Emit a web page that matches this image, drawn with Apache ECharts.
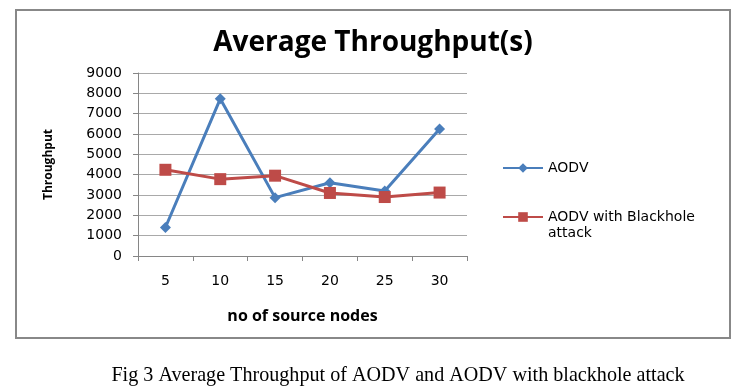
<!DOCTYPE html>
<html>
<head>
<meta charset="utf-8">
<script src="https://cdn.jsdelivr.net/npm/echarts@6/dist/echarts.min.js"></script>
<style>
html,body{margin:0;padding:0;background:#fff;}
#chart{width:743px;height:392px;}
</style>
</head>
<body>
<div id="chart"></div>
<script>
const categories = ['5', '10', '15', '20', '25', '30'];
const aodv = [1400, 7730, 2870, 3600, 3200, 6240];
const aodvBlackhole = [4240, 3780, 3950, 3100, 2900, 3120];
const yTicks = [0, 1000, 2000, 3000, 4000, 5000, 6000, 7000, 8000, 9000];
const seriesNames = ['AODV', 'AODV with Blackhole attack'];
const titleText = 'Average Throughput(s)';
const xName = 'no of source nodes';
const yName = 'Throughput';
const captionText = 'Fig 3 Average Throughput of AODV and AODV with blackhole attack';

const chart = echarts.init(document.getElementById('chart'), null, {renderer: 'canvas'});
const legendText = {fontFamily: 'DejaVu Sans', fontSize: 14, color: '#000', lineHeight: 16};
chart.setOption({
  animation: false,
  backgroundColor: '#fff',
  title: {
    text: titleText, left: 368, top: 24, textAlign: 'center',
    textStyle: {fontFamily: 'Open Sans', fontWeight: 'bold', fontSize: 28, color: '#000'}
  },
  legend: [
    {data: [seriesNames[0]], orient: 'vertical', left: 497, top: 155, itemWidth: 40, itemHeight: 12, itemGap: 5,
     textStyle: legendText},
    {data: [seriesNames[1]], orient: 'vertical', left: 497, top: 188, itemWidth: 40, itemHeight: 12, itemGap: 5,
     textStyle: legendText,
     formatter: function () { return '\nAODV with Blackhole\nattack'; }}
  ],
  grid: {left: 138, right: 276, top: 73, bottom: 136, containLabel: false},
  xAxis: {
    type: 'category', data: categories, boundaryGap: true,
    name: xName, nameLocation: 'middle', nameGap: 52,
    nameTextStyle: {fontFamily: 'Open Sans', fontWeight: 'bold', fontSize: 16, color: '#000'},
    axisLine: {lineStyle: {color: '#868686', width: 1}},
    axisTick: {show: true, alignWithLabel: false, length: 5, lineStyle: {color: '#868686'}},
    axisLabel: {fontFamily: 'DejaVu Sans', fontSize: 14, color: '#000', margin: 18}
  },
  yAxis: {
    type: 'value', min: yTicks[0], max: yTicks[yTicks.length - 1], interval: 1000,
    name: yName, nameLocation: 'middle', nameGap: 83, nameRotate: 90,
    nameTextStyle: {fontFamily: 'Open Sans', fontWeight: 'bold', fontSize: 12, color: '#000'},
    axisLine: {show: true, lineStyle: {color: '#868686', width: 1}},
    axisTick: {show: true, length: 5, lineStyle: {color: '#868686'}},
    axisLabel: {fontFamily: 'DejaVu Sans', fontSize: 14, color: '#000', margin: 16,
                formatter: function (v) { return String(v); }},
    splitLine: {show: true, lineStyle: {color: '#a9a9a9', width: 1}}
  },
  series: [
    {name: seriesNames[0], type: 'line', data: aodv, symbol: 'diamond', symbolSize: 11,
     lineStyle: {color: '#4a7ebb', width: 3}, itemStyle: {color: '#4a7ebb'}},
    {name: seriesNames[1], type: 'line', data: aodvBlackhole, symbol: 'rect', symbolSize: 12,
     lineStyle: {color: '#be4b48', width: 3}, itemStyle: {color: '#be4b48'}}
  ],
  graphic: [
    {type: 'rect', shape: {x: 16, y: 10, width: 714, height: 328}, silent: true,
     style: {fill: 'none', stroke: '#888', lineWidth: 2}},
    {type: 'text', x: 398, y: 375, scaleX: 0.915,
     style: {text: captionText, fontFamily: 'Liberation Serif', fontSize: 22, fill: '#000',
             align: 'center', verticalAlign: 'middle'}}
  ]
});
</script>
</body>
</html>
